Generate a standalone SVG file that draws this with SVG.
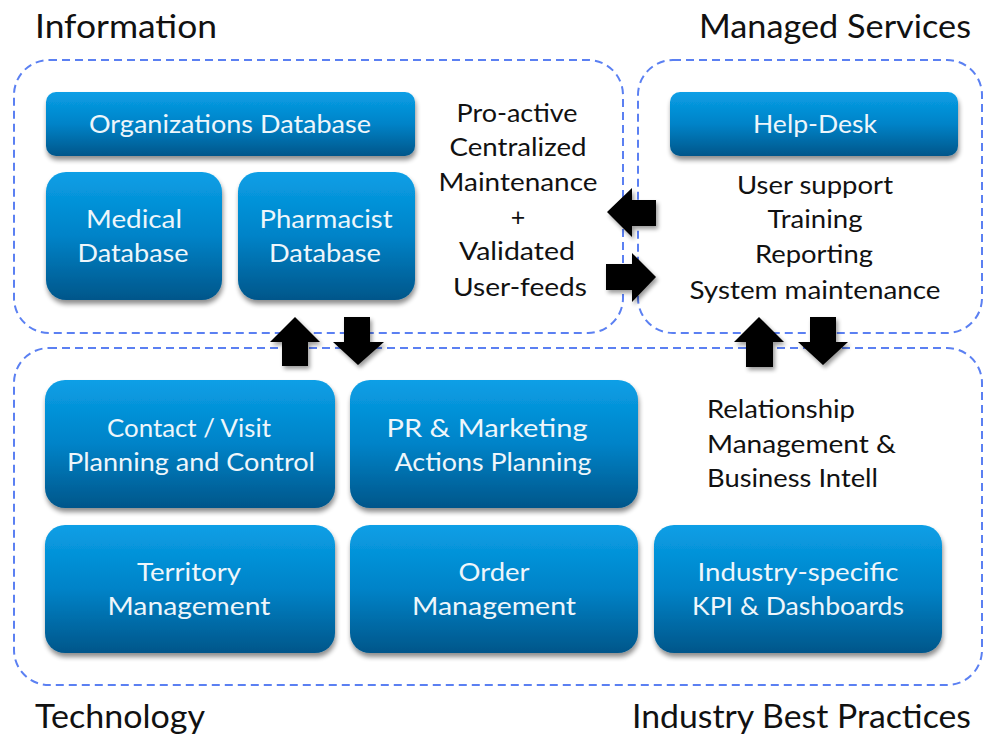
<svg xmlns="http://www.w3.org/2000/svg" width="984" height="735" viewBox="0 0 984 735">
  <defs>
    <linearGradient id="boxFill" x1="0" y1="0" x2="0" y2="1">
      <stop offset="0" stop-color="#0a9fe6"/>
      <stop offset="0.5" stop-color="#0083c8"/>
      <stop offset="1" stop-color="#00568a"/>
    </linearGradient>
    <filter id="shadow" x="-10%" y="-10%" width="125%" height="135%">
      <feGaussianBlur in="SourceAlpha" stdDeviation="2.5"/>
      <feOffset dx="1" dy="4" result="b"/>
      <feComponentTransfer><feFuncA type="linear" slope="0.45"/></feComponentTransfer>
      <feMerge><feMergeNode/><feMergeNode in="SourceGraphic"/></feMerge>
    </filter>
    <filter id="arrowShadow" x="-30%" y="-30%" width="170%" height="170%">
      <feGaussianBlur in="SourceAlpha" stdDeviation="2"/>
      <feOffset dx="2" dy="3" result="b"/>
      <feComponentTransfer><feFuncA type="linear" slope="0.4"/></feComponentTransfer>
      <feMerge><feMergeNode/><feMergeNode in="SourceGraphic"/></feMerge>
    </filter>
  </defs>
  <style>
    .area { fill: none; stroke: #5b80f2; stroke-width: 2; stroke-dasharray: 8 5; }
    .box { fill: url(#boxFill); filter: url(#shadow); }
    .label { font-family: Lato, "Open Sans", sans-serif; font-size: 25px; fill: #eef6fb; text-anchor: middle; }
    .title { font-family: Lato, "Open Sans", sans-serif; font-size: 32px; fill: #111; }
    .note { font-family: Lato, "Open Sans", sans-serif; font-size: 25px; fill: #111; }
    .mid { text-anchor: middle; }
    .arrow { fill: #000; filter: url(#arrowShadow); }
  </style>
  <rect width="984" height="735" fill="#fff"/>

  <!-- section outlines -->
  <g id="areas">
    <rect class="area" x="14" y="60" width="609" height="273" rx="35"/>
    <rect class="area" x="638" y="60" width="344" height="273" rx="35"/>
    <rect class="area" x="14" y="348" width="968" height="337" rx="35"/>
  </g>

  <!-- section titles -->
  <g id="titles">
    <text class="title" x="35" y="38" textLength="182" lengthAdjust="spacingAndGlyphs">Information</text>
    <text class="title" x="699" y="38" textLength="272" lengthAdjust="spacingAndGlyphs">Managed Services</text>
    <text class="title" x="35" y="728" textLength="170" lengthAdjust="spacingAndGlyphs">Technology</text>
    <text class="title" x="632" y="728" textLength="339" lengthAdjust="spacingAndGlyphs">Industry Best Practices</text>
  </g>

  <!-- Information -->
  <g id="organizations-db">
    <rect class="box" x="46" y="92" width="369" height="64" rx="10"/>
    <text class="label" x="230" y="133" textLength="282" lengthAdjust="spacingAndGlyphs">Organizations Database</text>
  </g>
  <g id="medical-db">
    <rect class="box" x="46" y="172" width="176" height="128" rx="20"/>
    <text class="label" x="134" y="228" textLength="96" lengthAdjust="spacingAndGlyphs">Medical</text>
    <text class="label" x="133" y="262" textLength="111" lengthAdjust="spacingAndGlyphs">Database</text>
  </g>
  <g id="pharmacist-db">
    <rect class="box" x="238" y="172" width="177" height="128" rx="20"/>
    <text class="label" x="326" y="228" textLength="133" lengthAdjust="spacingAndGlyphs">Pharmacist</text>
    <text class="label" x="325" y="262" textLength="112" lengthAdjust="spacingAndGlyphs">Database</text>
  </g>
  <g id="information-notes" class="note mid">
    <text x="517" y="122" textLength="121" lengthAdjust="spacingAndGlyphs">Pro-active</text>
    <text x="518" y="156" textLength="137" lengthAdjust="spacingAndGlyphs">Centralized</text>
    <text x="518" y="191" textLength="159" lengthAdjust="spacingAndGlyphs">Maintenance</text>
    <text x="518" y="226">+</text>
    <text x="517" y="260" textLength="116" lengthAdjust="spacingAndGlyphs">Validated</text>
    <text x="520" y="296" textLength="134" lengthAdjust="spacingAndGlyphs">User-feeds</text>
  </g>

  <!-- Managed Services -->
  <g id="help-desk">
    <rect class="box" x="670" y="92" width="288" height="64" rx="10"/>
    <text class="label" x="815" y="133" textLength="124" lengthAdjust="spacingAndGlyphs">Help-Desk</text>
  </g>
  <g id="managed-notes" class="note mid">
    <text x="815" y="194" textLength="156" lengthAdjust="spacingAndGlyphs">User support</text>
    <text x="815" y="228" textLength="95" lengthAdjust="spacingAndGlyphs">Training</text>
    <text x="814" y="263" textLength="118" lengthAdjust="spacingAndGlyphs">Reporting</text>
    <text x="815" y="299" textLength="251" lengthAdjust="spacingAndGlyphs">System maintenance</text>
  </g>

  <!-- Technology / Best Practices -->
  <g id="contact-visit">
    <rect class="box" x="45" y="380" width="290" height="128" rx="20"/>
    <text class="label" x="189" y="437" textLength="164" lengthAdjust="spacingAndGlyphs">Contact / Visit</text>
    <text class="label" x="191" y="471" textLength="248" lengthAdjust="spacingAndGlyphs">Planning and Control</text>
  </g>
  <g id="pr-marketing">
    <rect class="box" x="350" y="380" width="288" height="128" rx="20"/>
    <text class="label" x="487" y="437" textLength="201" lengthAdjust="spacingAndGlyphs">PR &amp; Marketing</text>
    <text class="label" x="493" y="471" textLength="197" lengthAdjust="spacingAndGlyphs">Actions Planning</text>
  </g>
  <g id="territory">
    <rect class="box" x="45" y="525" width="290" height="128" rx="20"/>
    <text class="label" x="189" y="581" textLength="104" lengthAdjust="spacingAndGlyphs">Territory</text>
    <text class="label" x="189" y="615" textLength="163" lengthAdjust="spacingAndGlyphs">Management</text>
  </g>
  <g id="order-management">
    <rect class="box" x="350" y="525" width="288" height="128" rx="20"/>
    <text class="label" x="494" y="581" textLength="71" lengthAdjust="spacingAndGlyphs">Order</text>
    <text class="label" x="494" y="615" textLength="164" lengthAdjust="spacingAndGlyphs">Management</text>
  </g>
  <g id="kpi-dashboards">
    <rect class="box" x="654" y="525" width="288" height="128" rx="20"/>
    <text class="label" x="798" y="581" textLength="201" lengthAdjust="spacingAndGlyphs">Industry-specific</text>
    <text class="label" x="798" y="615" textLength="212" lengthAdjust="spacingAndGlyphs">KPI &amp; Dashboards</text>
  </g>
  <g id="best-practice-notes" class="note">
    <text x="707" y="418" textLength="148" lengthAdjust="spacingAndGlyphs">Relationship</text>
    <text x="707" y="453" textLength="189" lengthAdjust="spacingAndGlyphs">Management &amp;</text>
    <text x="707" y="487" textLength="171" lengthAdjust="spacingAndGlyphs">Business Intell</text>
  </g>

  <!-- block arrows between sections -->
  <g id="connectors">
    <!-- Managed Services to Information -->
    <polygon class="arrow" points="607,212 632,188 632,200 656,200 656,226 632,226 632,237"/>
    <!-- Information to Managed Services -->
    <polygon class="arrow" points="656,277 632,253 632,264 606,264 606,290 632,290 632,302"/>
    <!-- Technology to Information -->
    <polygon class="arrow" points="295,317 320,342 308,342 308,366 282,366 282,342 270,342"/>
    <!-- Information to Technology -->
    <polygon class="arrow" points="358,365 333,342 344,342 344,317 370,317 370,342 384,342"/>
    <!-- Best Practices to Managed Services -->
    <polygon class="arrow" points="759,317 784,342 773,342 773,367 746,367 746,342 734,342"/>
    <!-- Managed Services to Best Practices -->
    <polygon class="arrow" points="823,365 798,342 810,342 810,317 836,317 836,342 848,342"/>
  </g>
</svg>
